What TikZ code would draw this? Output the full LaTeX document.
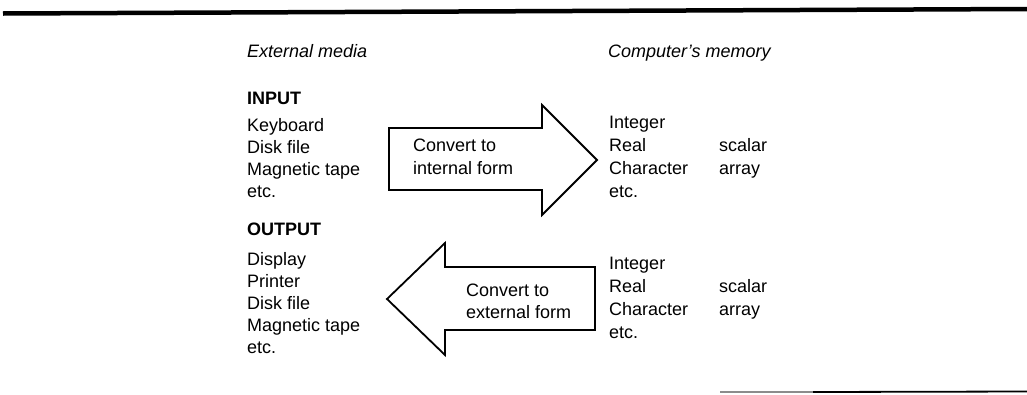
\documentclass[tikz,border=0pt]{standalone}
\usepackage{fontspec}
\setmainfont{Liberation Sans}
\begin{document}
\begin{tikzpicture}[x=1pt,y=-1pt,
  lbl/.style={anchor=base west,inner sep=0pt,font=\fontsize{18}{22}\selectfont},
  heading/.style={lbl,font=\fontsize{18}{22}\selectfont\itshape},
  sect/.style={lbl,font=\fontsize{18}{22}\selectfont\bfseries},
  bigarrow/.style={draw,line width=1.8pt,line join=miter}]
\useasboundingbox (0,0) rectangle (1027,394);

% rules above and below
\draw[line width=4.5pt] (3,13.5) -- (1027,9);
\draw[line width=1.6pt,black!45] (720,392) -- (813,392);
\draw[line width=1.8pt] (813,392) -- (1027,391.5);

% column headings
\node[heading] (ext) at (247,57) {External media};
\node[heading] (mem) at (608,57) {Computer’s memory};

% input side
\node[sect] (input) at (247,104) {INPUT};
\node[lbl] (in1) at (247,131) {Keyboard};
\node[lbl] (in2) at (247,153) {Disk file};
\node[lbl] (in3) at (247,175) {Magnetic tape};
\node[lbl] (in4) at (247,197) {etc.};

% output side
\node[sect] (output) at (247,235) {OUTPUT};
\node[lbl] (out1) at (247,265) {Display};
\node[lbl] (out2) at (247,287) {Printer};
\node[lbl] (out3) at (247,309) {Disk file};
\node[lbl] (out4) at (247,331) {Magnetic tape};
\node[lbl] (out5) at (247,353) {etc.};

% memory types, upper block
\node[lbl] (t1) at (609,128) {Integer};
\node[lbl] (t2) at (609,151) {Real};
\node[lbl] (t3) at (609,174) {Character};
\node[lbl] (t4) at (609,197) {etc.};
\node[lbl] (s1) at (719,151) {scalar};
\node[lbl] (s2) at (719,174) {array};

% memory types, lower block
\node[lbl] (u1) at (609,269) {Integer};
\node[lbl] (u2) at (609,292) {Real};
\node[lbl] (u3) at (609,315) {Character};
\node[lbl] (u4) at (609,338) {etc.};
\node[lbl] (v1) at (719,292) {scalar};
\node[lbl] (v2) at (719,315) {array};

% block arrow pointing right
\draw[bigarrow] (389,128) -- (542,128) -- (542,105) -- (597,160)
  -- (542,215) -- (542,190) -- (389,190) -- cycle;
\node[lbl] (c1) at (413,151) {Convert to};
\node[lbl] (c2) at (413,174) {internal form};

% block arrow pointing left
\draw[bigarrow] (595,267) -- (445,267) -- (445,243) -- (387,299)
  -- (445,355) -- (445,330) -- (595,330) -- cycle;
\node[lbl] (d1) at (466,296) {Convert to};
\node[lbl] (d2) at (466,318) {external form};
\end{tikzpicture}
\end{document}
